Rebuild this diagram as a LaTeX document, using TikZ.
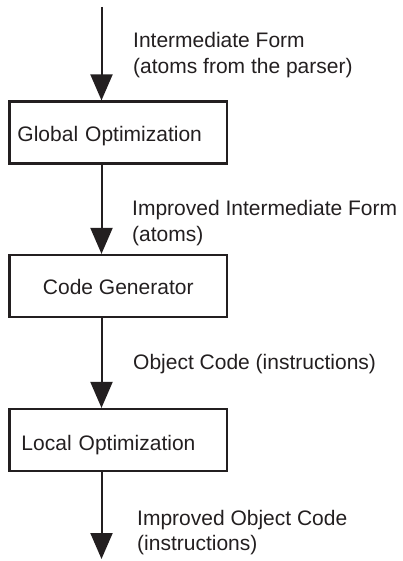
\documentclass[tikz,border=0pt]{standalone}
\usepackage{fontspec}
\setmainfont{Liberation Sans}
\usetikzlibrary{arrows.meta}
\definecolor{ink}{RGB}{35,31,32}
\tikzset{
  box/.style={draw=ink, line width=2.2bp, rectangle, inner ysep=0pt,
    minimum width=217.5bp, minimum height=62bp, text=ink,
    font=\fontsize{21bp}{25.5bp}\selectfont, text depth=0bp},
  lbl/.style={anchor=base west, align=left, inner sep=0pt, text=ink,
    font=\fontsize{21bp}{25.5bp}\selectfont},
  arr/.style={draw=ink, line width=2bp,
    -{Triangle[width=22bp,length=26bp]}}
}
\begin{document}
\begin{tikzpicture}[x=1bp,y=-1bp]
\useasboundingbox (0,0) rectangle (402,561);
\coordinate (in) at (101.5,7);
\coordinate (out) at (101.5,559);
\node[box, text width=201.5bp, inner xsep=8bp, align=left, text height=19bp] (b1) at (118.25,132.5) {Global Optimization};
\node[box, inner xsep=0pt, text height=16.6bp] (b2) at (118.25,286) {Code Generator};
\node[box, text width=193.5bp, inner xsep=12bp, align=left, text height=20bp] (b3) at (118.25,440) {Local Optimization};
% base anchor of a two-line label is on its last line
\node[lbl] (l1) at (133,73.5) {Intermediate Form\\(atoms from the parser)};
\node[lbl] (l2) at (132,241) {Improved Intermediate Form\\(atoms)};
\node[lbl] (l3) at (133,369) {Object Code (instructions)};
\node[lbl] (l4) at (137,550.5) {Improved Object Code\\(instructions)};
\draw[arr] (in) -- (in |- b1.north);
\draw[arr] (in |- b1.south) -- (in |- b2.north);
\draw[arr] (in |- b2.south) -- (in |- b3.north);
\draw[arr] (in |- b3.south) -- (out);
\end{tikzpicture}
\end{document}
